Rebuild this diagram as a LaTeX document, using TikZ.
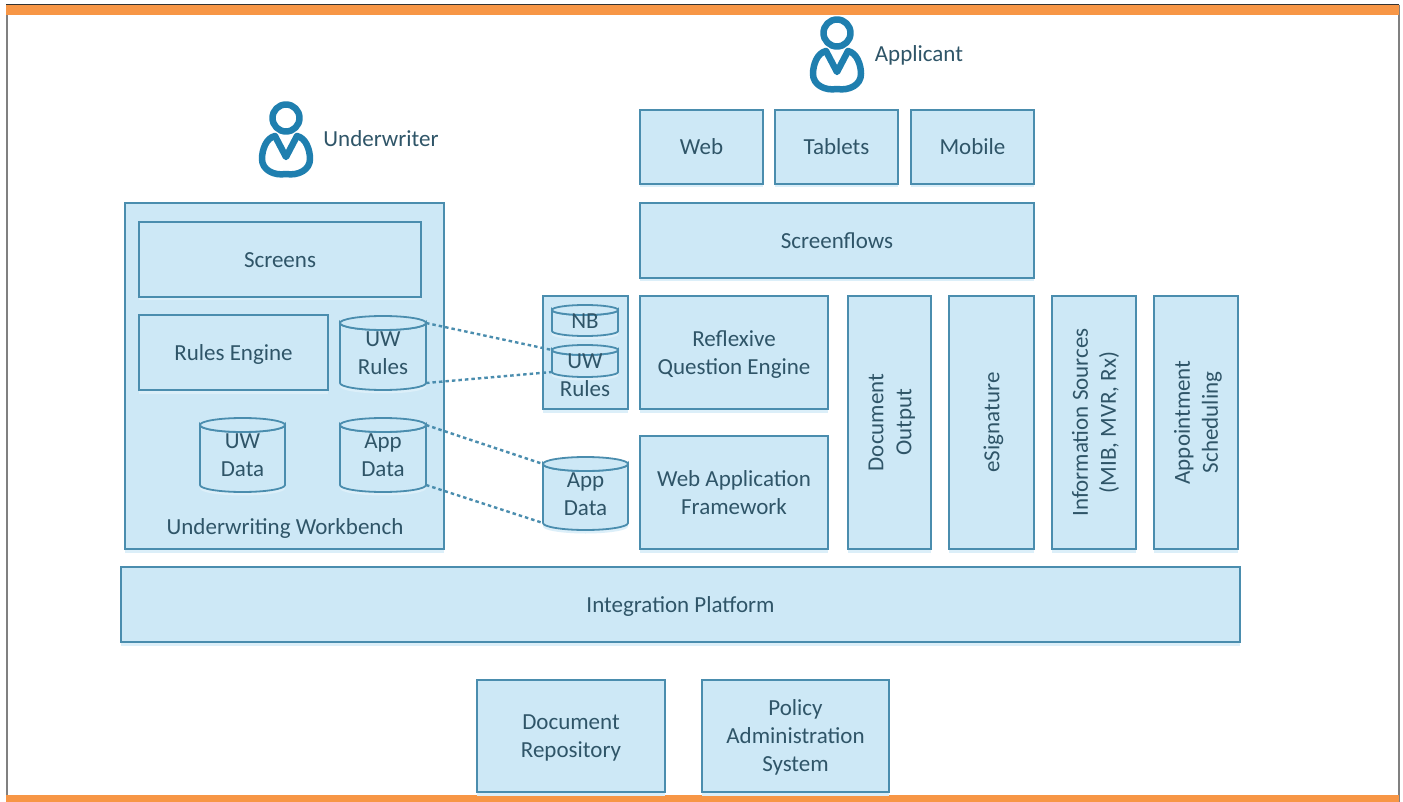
\documentclass[tikz,border=0pt]{standalone}
\usepackage{fontspec}
\setmainfont{Carlito}
\usetikzlibrary{calc,shadows}
\definecolor{boxfill}{HTML}{CDE8F6}
\definecolor{boxline}{HTML}{4A8DAE}
\definecolor{boxglow}{HTML}{DCEFF9}
\definecolor{txt}{HTML}{2F5568}
\definecolor{person}{HTML}{1F7FAF}
\definecolor{bar}{HTML}{F79646}
\newcommand{\vct}[1]{\raisebox{-8.5pt}[0pt][0pt]{\begin{tabular}{@{}c@{}}#1\end{tabular}}}
\tikzset{
  x=1pt,y=-1pt,
  softshadow/.style={drop shadow={shadow xshift=0pt,shadow yshift=-3.5pt,fill=boxglow,opacity=1,draw=none}},
  lbl/.style={text=txt,font=\fontsize{23}{28}\selectfont,inner sep=0pt},
  ubox/.style={lbl,draw=boxline,fill=boxfill,line width=1.8pt,softshadow},
  cylbody/.style={draw=boxline,fill=boxfill,line width=1.8pt},
  link/.style={draw=boxline,line width=2.4pt,dash pattern=on 3.5pt off 3pt},
  personline/.style={draw=person,line width=6.5pt,line join=round},
}
% name, x1, y1, x2, y2, text
\newcommand{\ubx}[6]{%
  \pgfmathsetmacro{\cxv}{(#2+#4)/2}\pgfmathsetmacro{\cyv}{(#3+#5)/2}%
  \pgfmathsetmacro{\wv}{#4-#2}\pgfmathsetmacro{\hv}{#5-#3}%
  \node[ubox,minimum width=\wv pt,minimum height=\hv pt] (#1) at (\cxv,\cyv) {\vct{#6}};}
% vertical text box
\newcommand{\vbx}[6]{%
  \pgfmathsetmacro{\cxv}{(#2+#4)/2}\pgfmathsetmacro{\cyv}{(#3+#5)/2}%
  \pgfmathsetmacro{\wv}{#4-#2}\pgfmathsetmacro{\hv}{#5-#3}%
  \node[ubox,rotate=90,minimum width=\hv pt,minimum height=\wv pt] (#1) at (\cxv,\cyv) {\vct{#6}};}
% cylinder: name, x1, y1, x2, y2, ry, text
\newcommand{\cyl}[7]{%
  \pgfmathsetmacro{\cxv}{(#2+#4)/2}\pgfmathsetmacro{\cyv}{(#3+#5)/2}%
  \pgfmathsetmacro{\rxv}{(#4-#2)/2}%
  \pgfmathsetmacro{\ytop}{#3+#6}\pgfmathsetmacro{\ybot}{#5-#6}%
  \path[cylbody,softshadow] (#2,\ytop) arc[start angle=180,end angle=360,x radius=\rxv,y radius=-#6]
     -- (#4,\ybot) arc[start angle=0,end angle=-180,x radius=\rxv,y radius=-#6] -- cycle;
  \path[cylbody] (\cxv,\ytop) ellipse[x radius=\rxv,y radius=#6];
  \coordinate (#1-tr) at (#4,\ytop);\coordinate (#1-br) at (#4,\ybot);
  \coordinate (#1-tl) at (#2,\ytop);\coordinate (#1-bl) at (#2,\ybot);
  \node[lbl] (#1) at (\cxv,\cyv) {\vct{#7}};}
\newcommand{\persona}[3]{%
  \begin{scope}[shift={(#2,#3)}]
    \node[circle,personline,minimum size=27pt,inner sep=0pt] (#1) at (0,0) {};
    \path[personline]
      (-11,18) -- (0,39) -- (11,18)
      .. controls (20,20) and (24,32) .. (24,41)
      .. controls (24,52) and (12,58) .. (0,56)
      .. controls (-12,58) and (-24,52) .. (-24,41)
      .. controls (-24,32) and (-20,20) .. (-11,18) -- cycle;
  \end{scope}}
\begin{document}
\begin{tikzpicture}
\useasboundingbox (0,0) rectangle (1403,802);
\fill[white] (0,0) rectangle (1403,802);
% frame
\draw[gray,line width=2pt] (6.5,5) -- (6.5,802);
\draw[gray,line width=2pt] (1398.5,5) -- (1398.5,802);
\fill[bar] (6,5) rectangle (1399,15);
\draw[black!80,line width=1.2pt] (6,4.5) -- (1399,4.5);
\fill[bar] (6,795) rectangle (1399,802);
% persons
\persona{applicantfig}{837}{33}
\node[lbl] (applicant) at (919,54) {\vct{Applicant}};
\persona{underwriterfig}{286}{118}
\node[lbl] (underwriter) at (381,139) {\vct{Underwriter}};
% applicant channels
\ubx{web}{640}{110}{763}{184}{Web}
\ubx{tablets}{775}{110}{898}{184}{Tablets}
\ubx{mobile}{911}{110}{1034}{184}{Mobile}
\ubx{screenflows}{640}{203}{1034}{278}{Screenflows}
% workbench
\ubx{workbench}{125}{203}{444}{549}{}
\ubx{screens}{139}{222}{421}{297}{Screens}
\ubx{rulesengine}{139}{315}{328}{390}{Rules Engine}
\cyl{uwrules}{340}{316}{426}{390}{7}{UW\\Rules}
\cyl{uwdata}{200}{418}{285}{492}{7}{UW\\Data}
\cyl{appdata}{340}{418}{426}{492}{7}{App\\Data}
\node[lbl] (workbenchlabel) at (285,527) {\vct{Underwriting Workbench}};
% middle
\ubx{rulesbox}{543}{296}{628}{409}{}
\cyl{nb}{552}{305}{618}{336}{5}{NB}
\cyl{uwsmall}{552}{345}{618}{377}{5}{UW}
\node[lbl] (ruleslabel) at (585,389) {\vct{Rules}};
\cyl{appdata2}{543}{457}{628}{530}{7}{App\\Data}
\draw[link] (uwrules-tr) -- (uwsmall-tl);
\draw[link] (uwrules-br) -- (uwsmall-bl);
\draw[link] (appdata-tr) -- (appdata2-tl);
\draw[link] (appdata-br) -- (appdata2-bl);
\ubx{reflexive}{640}{296}{828}{409}{Reflexive\\Question Engine}
\ubx{webapp}{640}{436}{828}{549}{Web Application\\Framework}
\vbx{docoutput}{848}{296}{931}{549}{Document\\Output}
\vbx{esig}{949}{296}{1034}{549}{eSignature}
\vbx{info}{1052}{296}{1136}{549}{Information Sources\\(MIB, MVR, Rx)}
\vbx{appt}{1154}{296}{1238}{549}{Appointment\\Scheduling}
\ubx{integration}{121}{567}{1240}{642}{Integration Platform}
\ubx{docrepo}{477}{680}{665}{792}{Document\\Repository}
\ubx{pas}{702}{680}{889}{792}{Policy\\Administration\\System}
\end{tikzpicture}
\end{document}
